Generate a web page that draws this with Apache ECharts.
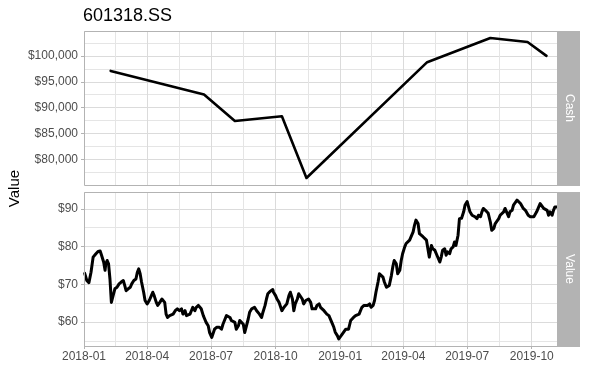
<!DOCTYPE html>
<html><head><meta charset="utf-8">
<script src="https://cdn.jsdelivr.net/npm/echarts@6/dist/echarts.min.js"></script>
<style>html,body{margin:0;padding:0;background:#fff}#c{width:589px;height:392px}</style>
</head><body><div id="c"></div>
<script>
// ---------- data ----------
const chartTitle = '601318.SS';
const facetLabels = ['Cash', 'Value'];
const yAxisTitle = 'Value';
const xTickLabels = ['2018-01','2018-04','2018-07','2018-10','2019-01','2019-04','2019-07','2019-10'];
const xRange = ['2018-01-01', '2019-11-06'];
const cashTicks = [80000, 85000, 90000, 95000, 100000];
const valueTicks = [60, 70, 80, 90];

const cashDates = ['2018-02-08','2018-06-21','2018-08-04','2018-10-10','2018-11-14','2019-05-05','2019-08-03','2019-09-25','2019-10-22'];
const cashValues = [97100, 92560, 87440, 88350, 76450, 98780, 103440, 102660, 100000];

const valueDates = [
'2018-01-02','2018-01-05','2018-01-08','2018-01-11','2018-01-14','2018-01-18','2018-01-21','2018-01-24','2018-01-26','2018-01-29','2018-01-31',
'2018-02-01','2018-02-03','2018-02-05','2018-02-07','2018-02-09','2018-02-11','2018-02-14','2018-02-17','2018-02-20','2018-02-23','2018-02-26','2018-02-28',
'2018-03-02','2018-03-05','2018-03-08','2018-03-10','2018-03-11','2018-03-13','2018-03-16','2018-03-18','2018-03-20','2018-03-22','2018-03-24','2018-03-27','2018-03-29',
'2018-04-01','2018-04-04','2018-04-07','2018-04-09','2018-04-11','2018-04-14','2018-04-16','2018-04-19','2018-04-22','2018-04-24','2018-04-26','2018-04-28','2018-04-30',
'2018-05-03','2018-05-05','2018-05-08','2018-05-11','2018-05-14','2018-05-15','2018-05-17','2018-05-20','2018-05-22','2018-05-25','2018-05-27','2018-05-29',
'2018-06-01','2018-06-03','2018-06-05','2018-06-08','2018-06-10','2018-06-13','2018-06-15','2018-06-17','2018-06-20','2018-06-22','2018-06-24','2018-06-27','2018-06-29',
'2018-07-02','2018-07-04','2018-07-06','2018-07-09','2018-07-11','2018-07-13','2018-07-16','2018-07-18','2018-07-21','2018-07-23','2018-07-25','2018-07-28','2018-07-30',
'2018-08-01','2018-08-04','2018-08-06','2018-08-09','2018-08-11','2018-08-13','2018-08-16','2018-08-18','2018-08-20','2018-08-23','2018-08-25','2018-08-28','2018-08-30',
'2018-09-01','2018-09-04','2018-09-06','2018-09-08','2018-09-11','2018-09-13','2018-09-16','2018-09-18','2018-09-20','2018-09-23','2018-09-25','2018-09-27','2018-09-28',
'2018-10-01','2018-10-03','2018-10-06','2018-10-08','2018-10-10','2018-10-13','2018-10-15','2018-10-17','2018-10-20','2018-10-22','2018-10-25','2018-10-27','2018-10-29',
'2018-11-01','2018-11-03','2018-11-05','2018-11-08','2018-11-10','2018-11-13','2018-11-15','2018-11-17','2018-11-20','2018-11-22','2018-11-24','2018-11-27','2018-11-29',
'2018-12-02','2018-12-04','2018-12-06','2018-12-09','2018-12-11','2018-12-13','2018-12-16','2018-12-18','2018-12-21','2018-12-23','2018-12-25','2018-12-28','2018-12-30',
'2019-01-01','2019-01-04','2019-01-06','2019-01-09','2019-01-11','2019-01-13','2019-01-16','2019-01-18','2019-01-20','2019-01-23','2019-01-25','2019-01-28','2019-01-30',
'2019-02-01','2019-02-04','2019-02-06','2019-02-09','2019-02-12','2019-02-14','2019-02-17','2019-02-19','2019-02-21','2019-02-24','2019-02-26','2019-02-28',
'2019-03-03','2019-03-05','2019-03-08','2019-03-10','2019-03-12','2019-03-15','2019-03-17','2019-03-19','2019-03-22','2019-03-24','2019-03-27','2019-03-29','2019-03-31',
'2019-04-03','2019-04-05','2019-04-07','2019-04-10','2019-04-12','2019-04-15','2019-04-17','2019-04-19','2019-04-22','2019-04-24','2019-04-26','2019-04-29',
'2019-05-01','2019-05-04','2019-05-06','2019-05-08','2019-05-11','2019-05-13','2019-05-16','2019-05-18','2019-05-20','2019-05-23','2019-05-25','2019-05-27','2019-05-30',
'2019-06-01','2019-06-03','2019-06-06','2019-06-08','2019-06-11','2019-06-13','2019-06-15','2019-06-18','2019-06-20','2019-06-23','2019-06-26','2019-06-28',
'2019-07-01','2019-07-03','2019-07-05','2019-07-08','2019-07-10','2019-07-12','2019-07-15','2019-07-17','2019-07-20','2019-07-22','2019-07-24','2019-07-27','2019-07-29','2019-07-31',
'2019-08-03','2019-08-05','2019-08-08','2019-08-10','2019-08-12','2019-08-15','2019-08-17','2019-08-19','2019-08-22','2019-08-24','2019-08-27','2019-08-29','2019-08-31',
'2019-09-03','2019-09-05','2019-09-07','2019-09-10','2019-09-12','2019-09-15','2019-09-17','2019-09-19','2019-09-22','2019-09-24','2019-09-26','2019-09-29',
'2019-10-01','2019-10-04','2019-10-06','2019-10-08','2019-10-11','2019-10-13','2019-10-15','2019-10-18','2019-10-20','2019-10-23','2019-10-25','2019-10-27','2019-10-30',
'2019-11-01','2019-11-03','2019-11-06'
];
const valueValues = [
72.9,71.0,70.4,73.2,77.2,78.1,78.7,78.8,77.7,75.9,73.7,
75.4,76.3,75.4,71.4,65.2,64.8,68.8,69.2,70.1,70.6,71.0,69.7,
68.3,68.8,69.2,70.1,69.7,71.0,71.4,73.2,74.1,72.8,70.6,67.9,65.7,
64.8,65.7,67.0,67.9,67.0,65.2,64.4,65.2,66.1,66.6,65.2,62.1,61.2,
61.7,61.2,62.1,63.0,63.5,63.9,63.0,63.5,62.1,63.0,61.7,61.2,
62.1,63.0,63.9,63.0,63.9,64.4,64.8,63.5,61.7,60.8,59.9,59.0,57.2,
55.9,56.4,58.1,58.6,58.1,58.6,58.1,59.4,60.8,61.7,62.1,61.2,60.4,
60.8,59.9,58.1,59.0,60.4,60.4,59.4,57.2,57.2,60.8,62.6,63.5,63.0,
63.9,63.0,63.5,62.1,61.2,62.6,64.4,66.1,67.5,68.1,67.9,68.6,67.9,
67.0,66.1,65.2,64.8,63.0,63.9,63.5,64.8,67.0,67.9,66.1,63.0,64.8,
66.1,67.5,67.0,66.1,64.8,65.7,65.2,66.1,65.2,63.5,63.9,63.5,64.4,
64.8,63.9,63.9,63.0,63.0,62.1,61.7,61.2,59.5,58.6,57.3,56.4,55.5,
55.9,56.8,57.3,58.1,58.6,58.1,60.4,60.8,61.2,61.7,61.2,62.1,62.6,
63.9,64.4,64.8,64.4,64.8,63.9,64.4,65.7,67.9,70.6,72.8,72.3,
71.9,70.6,69.2,68.8,69.7,72.3,74.6,76.3,75.4,72.8,73.7,76.3,78.1,
79.9,80.8,81.2,81.7,82.1,83.9,85.7,87.0,86.1,83.4,83.0,82.6,
82.1,81.7,81.2,77.2,80.3,79.4,79.0,78.1,77.7,75.9,77.2,79.0,79.4,
77.7,78.6,78.1,79.4,79.9,81.2,80.3,83.0,87.4,87.5,89.2,91.0,
91.9,90.5,89.2,88.3,88.8,87.9,87.4,88.3,87.9,89.2,90.1,89.6,90.1,88.8,
86.5,84.3,84.8,86.1,86.5,87.4,88.3,87.9,89.2,90.1,88.8,87.9,89.2,
89.6,91.0,91.4,92.3,92.6,91.4,91.0,90.1,89.6,89.2,88.3,87.9,
87.4,87.9,88.3,89.2,90.5,91.4,91.9,90.1,90.5,89.6,88.3,89.2,88.3,
89.6,90.5,90.5
];

// ---------- helpers ----------
function parseDate(s) { const p = s.split('-').map(Number); return Date.UTC(p[0], p[1] - 1, p[2] || 1); }
function fmtDate(v) { const d = new Date(v); const m = d.getUTCMonth() + 1; return d.getUTCFullYear() + '-' + (m < 10 ? '0' + m : m); }
function fmtDollar(v) { return '$' + String(Math.round(v)).replace(/\B(?=(\d{3})+(?!\d))/g, ','); }
function expandRange(vals) { const lo = Math.min.apply(null, vals), hi = Math.max.apply(null, vals), pad = (hi - lo) * 0.05; return [lo - pad, hi + pad]; }
function minorsOf(major, range) {
  const out = [];
  for (let i = 0; i < major.length - 1; i++) out.push((major[i] + major[i + 1]) / 2);
  const stepLo = major[1] - major[0], stepHi = major[major.length - 1] - major[major.length - 2];
  out.unshift(major[0] - stepLo / 2); out.push(major[major.length - 1] + stepHi / 2);
  return out.filter(v => v >= range[0] && v <= range[1]);
}

const xMin = parseDate(xRange[0]), xMax = parseDate(xRange[1]);
const xMajor = xTickLabels.map(parseDate);
const xMinor = [];
for (let i = 0; i < xMajor.length - 1; i++) xMinor.push((xMajor[i] + xMajor[i + 1]) / 2);

const cashRange = expandRange(cashValues);
const valueRange = expandRange(valueValues);
const cashMinor = minorsOf(cashTicks, cashRange);
const valueMinor = minorsOf(valueTicks, valueRange);

// ---------- layout ----------
const FONT = 'Liberation Sans, Arial, sans-serif';
const L = 84, W = 473, H = 154;
const tops = [31, 192];
const stripW = 23;
const majorGrid = '#dbdbdb', minorGrid = '#e5e5e5', borderCol = '#b3b3b3', textCol = '#4d4d4d';

function xAxisPair(gi, showLabels) {
  return [{
    type: 'value', gridIndex: gi, min: xMin, max: xMax, position: 'bottom',
    axisLine: { show: false },
    axisTick: { show: showLabels, customValues: xMajor, length: 3, lineStyle: { color: borderCol } },
    axisLabel: { show: showLabels, customValues: xMajor, formatter: fmtDate, color: textCol, fontSize: 12, fontFamily: FONT, margin: 5, showMinLabel: true, showMaxLabel: true },
    splitLine: { show: true, lineStyle: { color: majorGrid, width: 1 } }
  }, {
    type: 'value', gridIndex: gi, min: xMin, max: xMax, position: 'top',
    axisLine: { show: false },
    axisTick: { show: false, customValues: xMinor },
    axisLabel: { show: false },
    splitLine: { show: true, lineStyle: { color: minorGrid, width: 1 } }
  }];
}
function yAxisPair(gi, ticks, minor, range) {
  return [{
    type: 'value', gridIndex: gi, min: range[0], max: range[1], position: 'left',
    axisLine: { show: false },
    axisTick: { show: true, customValues: ticks, length: 3, lineStyle: { color: borderCol } },
    axisLabel: { customValues: ticks, formatter: fmtDollar, color: textCol, fontSize: 12, fontFamily: FONT, margin: 6 },
    splitLine: { show: true, lineStyle: { color: majorGrid, width: 1 } }
  }, {
    type: 'value', gridIndex: gi, min: range[0], max: range[1], position: 'right',
    axisLine: { show: false },
    axisTick: { show: false, customValues: minor },
    axisLabel: { show: false },
    splitLine: { show: true, lineStyle: { color: minorGrid, width: 1 } }
  }];
}

const graphics = [];
graphics.push({ type: 'text', x: 83, y: 7, style: { text: chartTitle, font: '18px ' + FONT, fill: '#000', align: 'left', verticalAlign: 'top' } });
graphics.push({ type: 'text', x: 15, y: (tops[0] + tops[1] + H) / 2, rotation: Math.PI / 2, style: { text: yAxisTitle, font: '15px ' + FONT, fill: '#000', align: 'center', verticalAlign: 'middle' } });
tops.forEach((t, i) => {
  graphics.push({ type: 'rect', z: 100, shape: { x: L + 0.5, y: t + 0.5, width: W, height: H }, style: { fill: null, stroke: borderCol, lineWidth: 1 } });
  graphics.push({ type: 'rect', z: 100, shape: { x: L + W, y: t, width: stripW, height: H + 1 }, style: { fill: borderCol } });
  graphics.push({ type: 'text', z: 101, x: L + W + stripW / 2 + 0.5, y: t + H / 2, rotation: -Math.PI / 2, style: { text: facetLabels[i], font: '12px ' + FONT, fill: '#fff', align: 'center', verticalAlign: 'middle' } });
});

const chart = echarts.init(document.getElementById('c'), null, { renderer: 'canvas' });
chart.setOption({
  animation: false,
  backgroundColor: '#fff',
  grid: tops.map(t => ({ left: L, top: t, width: W, height: H, show: false })),
  xAxis: [].concat(xAxisPair(0, false), xAxisPair(1, true)),
  yAxis: [].concat(yAxisPair(0, cashTicks, cashMinor, cashRange), yAxisPair(1, valueTicks, valueMinor, valueRange)),
  graphic: graphics,
  series: [{
    type: 'line', xAxisIndex: 0, yAxisIndex: 0, showSymbol: false, symbol: 'none',
    data: cashDates.map((d, i) => [parseDate(d), cashValues[i]]),
    lineStyle: { color: '#000', width: 2.6, join: 'round', cap: 'round' }, z: 5
  }, {
    type: 'line', xAxisIndex: 2, yAxisIndex: 2, showSymbol: false, symbol: 'none',
    data: valueDates.map((d, i) => [parseDate(d), valueValues[i]]),
    lineStyle: { color: '#000', width: 3, join: 'round', cap: 'round' }, z: 5
  }]
});
</script></body></html>
